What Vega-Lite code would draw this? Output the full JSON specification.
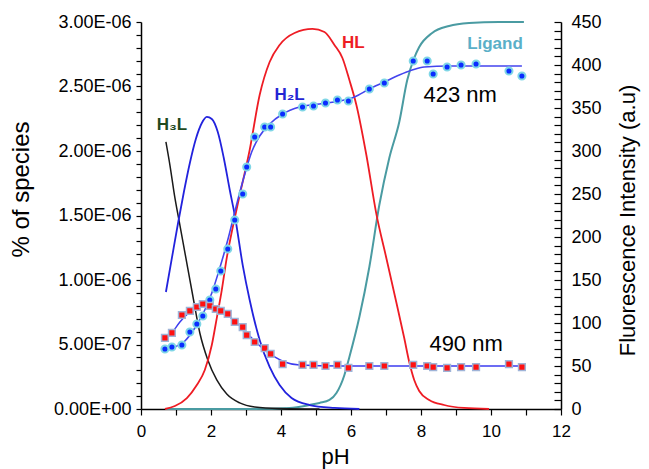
{
  "$schema": "https://vega.github.io/schema/vega-lite/v6.json",
  "width": 420,
  "height": 387,
  "autosize": "none",
  "padding": {"left": 141, "top": 22, "right": 88, "bottom": 60},
  "config": {
    "view": {"stroke": null},
    "font": "Liberation Sans",
    "axis": {"grid": false, "domainColor": "#000", "tickColor": "#000", "labelColor": "#000", "titleColor": "#000", "titleFontWeight": "normal", "domainWidth": 1.5, "tickWidth": 1.2, "labelFont": "Liberation Sans", "titleFont": "Liberation Sans", "labelOverlap": false, "labelFlush": false}
  },
  "datasets": {
    "species": [
      {"species": "H3L", "pH": 0.712, "value": 2.07e-6},
      {"species": "H3L", "pH": 0.826, "value": 1.891e-6},
      {"species": "H3L", "pH": 0.969, "value": 1.636e-6},
      {"species": "H3L", "pH": 1.111, "value": 1.426e-6},
      {"species": "H3L", "pH": 1.282, "value": 1.171e-6},
      {"species": "H3L", "pH": 1.481, "value": 0.876e-6},
      {"species": "H3L", "pH": 1.681, "value": 0.589e-6},
      {"species": "H3L", "pH": 1.909, "value": 0.38e-6},
      {"species": "H3L", "pH": 2.165, "value": 0.225e-6},
      {"species": "H3L", "pH": 2.45, "value": 0.116e-6},
      {"species": "H3L", "pH": 2.821, "value": 0.047e-6},
      {"species": "H3L", "pH": 3.248, "value": 0.016e-6},
      {"species": "H3L", "pH": 3.96, "value": 0.004e-6},
      {"species": "H3L", "pH": 5.1, "value": 0},
      {"species": "H2L", "pH": 0.712, "value": 0.907e-6},
      {"species": "H2L", "pH": 0.883, "value": 1.171e-6},
      {"species": "H2L", "pH": 1.054, "value": 1.434e-6},
      {"species": "H2L", "pH": 1.225, "value": 1.682e-6},
      {"species": "H2L", "pH": 1.396, "value": 1.907e-6},
      {"species": "H2L", "pH": 1.567, "value": 2.093e-6},
      {"species": "H2L", "pH": 1.738, "value": 2.217e-6},
      {"species": "H2L", "pH": 1.88, "value": 2.264e-6},
      {"species": "H2L", "pH": 2.023, "value": 2.248e-6},
      {"species": "H2L", "pH": 2.194, "value": 2.147e-6},
      {"species": "H2L", "pH": 2.365, "value": 1.946e-6},
      {"species": "H2L", "pH": 2.536, "value": 1.698e-6},
      {"species": "H2L", "pH": 2.678, "value": 1.504e-6},
      {"species": "H2L", "pH": 2.906, "value": 1.116e-6},
      {"species": "H2L", "pH": 3.105, "value": 0.845e-6},
      {"species": "H2L", "pH": 3.39, "value": 0.535e-6},
      {"species": "H2L", "pH": 3.675, "value": 0.326e-6},
      {"species": "H2L", "pH": 3.96, "value": 0.186e-6},
      {"species": "H2L", "pH": 4.302, "value": 0.085e-6},
      {"species": "H2L", "pH": 4.815, "value": 0.031e-6},
      {"species": "H2L", "pH": 5.527, "value": 0.008e-6},
      {"species": "H2L", "pH": 6.239, "value": 0},
      {"species": "HL", "pH": 0.684, "value": 0},
      {"species": "HL", "pH": 0.969, "value": 0.023e-6},
      {"species": "HL", "pH": 1.311, "value": 0.085e-6},
      {"species": "HL", "pH": 1.595, "value": 0.186e-6},
      {"species": "HL", "pH": 1.823, "value": 0.302e-6},
      {"species": "HL", "pH": 2.023, "value": 0.496e-6},
      {"species": "HL", "pH": 2.165, "value": 0.705e-6},
      {"species": "HL", "pH": 2.308, "value": 0.922e-6},
      {"species": "HL", "pH": 2.45, "value": 1.171e-6},
      {"species": "HL", "pH": 2.593, "value": 1.372e-6},
      {"species": "HL", "pH": 2.678, "value": 1.481e-6},
      {"species": "HL", "pH": 2.821, "value": 1.659e-6},
      {"species": "HL", "pH": 3.105, "value": 2.008e-6},
      {"species": "HL", "pH": 3.39, "value": 2.434e-6},
      {"species": "HL", "pH": 3.675, "value": 2.69e-6},
      {"species": "HL", "pH": 3.96, "value": 2.822e-6},
      {"species": "HL", "pH": 4.387, "value": 2.915e-6},
      {"species": "HL", "pH": 4.9, "value": 2.946e-6},
      {"species": "HL", "pH": 5.242, "value": 2.922e-6},
      {"species": "HL", "pH": 5.527, "value": 2.822e-6},
      {"species": "HL", "pH": 5.755, "value": 2.721e-6},
      {"species": "HL", "pH": 5.954, "value": 2.55e-6},
      {"species": "HL", "pH": 6.154, "value": 2.357e-6},
      {"species": "HL", "pH": 6.439, "value": 1.969e-6},
      {"species": "HL", "pH": 6.724, "value": 1.512e-6},
      {"species": "HL", "pH": 7.009, "value": 1.171e-6},
      {"species": "HL", "pH": 7.293, "value": 0.829e-6},
      {"species": "HL", "pH": 7.521, "value": 0.55e-6},
      {"species": "HL", "pH": 7.664, "value": 0.364e-6},
      {"species": "HL", "pH": 7.806, "value": 0.225e-6},
      {"species": "HL", "pH": 7.949, "value": 0.14e-6},
      {"species": "HL", "pH": 8.234, "value": 0.07e-6},
      {"species": "HL", "pH": 8.661, "value": 0.031e-6},
      {"species": "HL", "pH": 9.231, "value": 0.008e-6},
      {"species": "HL", "pH": 9.943, "value": 0},
      {"species": "Ligand", "pH": 0.712, "value": 0},
      {"species": "Ligand", "pH": 3.105, "value": 0},
      {"species": "Ligand", "pH": 4.245, "value": 0.008e-6},
      {"species": "Ligand", "pH": 4.815, "value": 0.031e-6},
      {"species": "Ligand", "pH": 5.1, "value": 0.047e-6},
      {"species": "Ligand", "pH": 5.385, "value": 0.07e-6},
      {"species": "Ligand", "pH": 5.584, "value": 0.124e-6},
      {"species": "Ligand", "pH": 5.812, "value": 0.264e-6},
      {"species": "Ligand", "pH": 5.954, "value": 0.403e-6},
      {"species": "Ligand", "pH": 6.239, "value": 0.713e-6},
      {"species": "Ligand", "pH": 6.524, "value": 1.101e-6},
      {"species": "Ligand", "pH": 6.809, "value": 1.581e-6},
      {"species": "Ligand", "pH": 7.094, "value": 1.946e-6},
      {"species": "Ligand", "pH": 7.379, "value": 2.225e-6},
      {"species": "Ligand", "pH": 7.607, "value": 2.55e-6},
      {"species": "Ligand", "pH": 7.806, "value": 2.721e-6},
      {"species": "Ligand", "pH": 7.949, "value": 2.806e-6},
      {"species": "Ligand", "pH": 8.319, "value": 2.915e-6},
      {"species": "Ligand", "pH": 8.803, "value": 2.969e-6},
      {"species": "Ligand", "pH": 9.373, "value": 2.992e-6},
      {"species": "Ligand", "pH": 10.228, "value": 3.0e-6},
      {"species": "Ligand", "pH": 10.94, "value": 3.0e-6}
    ],
    "speciesLabels": [
      {"label": "H₃L", "pH": 0.883, "value": 2.2e-6},
      {"label": "H₂L", "pH": 4.245, "value": 2.434e-6},
      {"label": "HL", "pH": 6.068, "value": 2.837e-6},
      {"label": "Ligand", "pH": 10.114, "value": 2.83e-6}
    ],
    "fluor": [
      {"series": "423 nm", "pH": 0.684, "intensity": 69.8},
      {"series": "423 nm", "pH": 0.883, "intensity": 72.1},
      {"series": "423 nm", "pH": 1.168, "intensity": 74.4},
      {"series": "423 nm", "pH": 1.396, "intensity": 89.5},
      {"series": "423 nm", "pH": 1.595, "intensity": 98.8},
      {"series": "423 nm", "pH": 1.766, "intensity": 108.1},
      {"series": "423 nm", "pH": 1.966, "intensity": 126.7},
      {"series": "423 nm", "pH": 2.137, "intensity": 139.5},
      {"series": "423 nm", "pH": 2.279, "intensity": 160.5},
      {"series": "423 nm", "pH": 2.479, "intensity": 186.0},
      {"series": "423 nm", "pH": 2.678, "intensity": 219.8},
      {"series": "423 nm", "pH": 2.906, "intensity": 250.0},
      {"series": "423 nm", "pH": 3.02, "intensity": 281.4},
      {"series": "423 nm", "pH": 3.248, "intensity": 316.3},
      {"series": "423 nm", "pH": 3.533, "intensity": 327.9},
      {"series": "423 nm", "pH": 3.704, "intensity": 327.9},
      {"series": "423 nm", "pH": 4.046, "intensity": 343.0},
      {"series": "423 nm", "pH": 4.615, "intensity": 351.2},
      {"series": "423 nm", "pH": 4.929, "intensity": 352.3},
      {"series": "423 nm", "pH": 5.271, "intensity": 355.8},
      {"series": "423 nm", "pH": 5.613, "intensity": 359.3},
      {"series": "423 nm", "pH": 5.926, "intensity": 358.1},
      {"series": "423 nm", "pH": 6.524, "intensity": 372.1},
      {"series": "423 nm", "pH": 6.952, "intensity": 379.1},
      {"series": "423 nm", "pH": 7.778, "intensity": 404.7},
      {"series": "423 nm", "pH": 8.177, "intensity": 404.7},
      {"series": "423 nm", "pH": 8.348, "intensity": 389.5},
      {"series": "423 nm", "pH": 8.746, "intensity": 397.7},
      {"series": "423 nm", "pH": 9.145, "intensity": 400.0},
      {"series": "423 nm", "pH": 9.573, "intensity": 401.2},
      {"series": "423 nm", "pH": 10.513, "intensity": 393.0},
      {"series": "423 nm", "pH": 10.883, "intensity": 387.2},
      {"series": "490 nm", "pH": 0.684, "intensity": 82.6},
      {"series": "490 nm", "pH": 0.883, "intensity": 88.4},
      {"series": "490 nm", "pH": 1.168, "intensity": 109.3},
      {"series": "490 nm", "pH": 1.396, "intensity": 114.0},
      {"series": "490 nm", "pH": 1.595, "intensity": 118.6},
      {"series": "490 nm", "pH": 1.766, "intensity": 122.1},
      {"series": "490 nm", "pH": 1.966, "intensity": 119.8},
      {"series": "490 nm", "pH": 2.137, "intensity": 116.3},
      {"series": "490 nm", "pH": 2.279, "intensity": 114.0},
      {"series": "490 nm", "pH": 2.479, "intensity": 110.5},
      {"series": "490 nm", "pH": 2.678, "intensity": 101.2},
      {"series": "490 nm", "pH": 2.906, "intensity": 95.3},
      {"series": "490 nm", "pH": 3.02, "intensity": 86.0},
      {"series": "490 nm", "pH": 3.248, "intensity": 77.9},
      {"series": "490 nm", "pH": 3.533, "intensity": 70.9},
      {"series": "490 nm", "pH": 3.704, "intensity": 64.0},
      {"series": "490 nm", "pH": 4.046, "intensity": 52.3},
      {"series": "490 nm", "pH": 4.615, "intensity": 51.2},
      {"series": "490 nm", "pH": 4.929, "intensity": 51.2},
      {"series": "490 nm", "pH": 5.271, "intensity": 50.0},
      {"series": "490 nm", "pH": 5.613, "intensity": 51.2},
      {"series": "490 nm", "pH": 5.926, "intensity": 47.7},
      {"series": "490 nm", "pH": 6.524, "intensity": 50.0},
      {"series": "490 nm", "pH": 6.952, "intensity": 50.0},
      {"series": "490 nm", "pH": 7.778, "intensity": 51.2},
      {"series": "490 nm", "pH": 8.177, "intensity": 50.0},
      {"series": "490 nm", "pH": 8.348, "intensity": 48.8},
      {"series": "490 nm", "pH": 8.746, "intensity": 47.7},
      {"series": "490 nm", "pH": 9.145, "intensity": 48.8},
      {"series": "490 nm", "pH": 9.573, "intensity": 48.8},
      {"series": "490 nm", "pH": 10.513, "intensity": 52.3},
      {"series": "490 nm", "pH": 10.883, "intensity": 48.8}
    ],
    "fits": [
      {"series": "423 nm", "pH": 0.684, "intensity": 68.6},
      {"series": "423 nm", "pH": 0.969, "intensity": 72.1},
      {"series": "423 nm", "pH": 1.254, "intensity": 79.1},
      {"series": "423 nm", "pH": 1.538, "intensity": 94.2},
      {"series": "423 nm", "pH": 1.823, "intensity": 115.1},
      {"series": "423 nm", "pH": 2.023, "intensity": 134.9},
      {"series": "423 nm", "pH": 2.251, "intensity": 164.0},
      {"series": "423 nm", "pH": 2.479, "intensity": 196.5},
      {"series": "423 nm", "pH": 2.707, "intensity": 233.7},
      {"series": "423 nm", "pH": 2.934, "intensity": 268.6},
      {"series": "423 nm", "pH": 3.162, "intensity": 298.8},
      {"series": "423 nm", "pH": 3.39, "intensity": 317.4},
      {"series": "423 nm", "pH": 3.675, "intensity": 331.4},
      {"series": "423 nm", "pH": 4.046, "intensity": 343.0},
      {"series": "423 nm", "pH": 4.53, "intensity": 351.2},
      {"series": "423 nm", "pH": 5.1, "intensity": 354.7},
      {"series": "423 nm", "pH": 5.67, "intensity": 358.1},
      {"series": "423 nm", "pH": 6.097, "intensity": 362.8},
      {"series": "423 nm", "pH": 6.524, "intensity": 372.1},
      {"series": "423 nm", "pH": 6.952, "intensity": 380.2},
      {"series": "423 nm", "pH": 7.379, "intensity": 388.4},
      {"series": "423 nm", "pH": 7.749, "intensity": 394.2},
      {"series": "423 nm", "pH": 8.091, "intensity": 397.7},
      {"series": "423 nm", "pH": 8.803, "intensity": 398.8},
      {"series": "423 nm", "pH": 9.943, "intensity": 398.8},
      {"series": "423 nm", "pH": 10.883, "intensity": 398.8},
      {"series": "490 nm", "pH": 0.684, "intensity": 80.2},
      {"series": "490 nm", "pH": 0.883, "intensity": 88.4},
      {"series": "490 nm", "pH": 1.111, "intensity": 101.2},
      {"series": "490 nm", "pH": 1.396, "intensity": 112.8},
      {"series": "490 nm", "pH": 1.681, "intensity": 119.8},
      {"series": "490 nm", "pH": 1.909, "intensity": 120.9},
      {"series": "490 nm", "pH": 2.137, "intensity": 117.4},
      {"series": "490 nm", "pH": 2.393, "intensity": 111.6},
      {"series": "490 nm", "pH": 2.678, "intensity": 102.3},
      {"series": "490 nm", "pH": 2.963, "intensity": 90.7},
      {"series": "490 nm", "pH": 3.248, "intensity": 79.1},
      {"series": "490 nm", "pH": 3.533, "intensity": 68.6},
      {"series": "490 nm", "pH": 3.818, "intensity": 60.5},
      {"series": "490 nm", "pH": 4.103, "intensity": 54.7},
      {"series": "490 nm", "pH": 4.53, "intensity": 51.2},
      {"series": "490 nm", "pH": 5.67, "intensity": 50.0},
      {"series": "490 nm", "pH": 10.883, "intensity": 50.0}
    ],
    "nmLabels": [
      {"label": "423 nm", "pH": 9.117, "intensity": 365.1},
      {"label": "490 nm", "pH": 9.288, "intensity": 75.6}
    ]
  },
  "layer": [
    {
      "encoding": {
        "x": {"field": "pH", "type": "quantitative", "scale": {"domain": [0, 12]},
          "axis": {"values": [0,1,2,3,4,5,6,7,8,9,10,11,12], "labelExpr": "datum.value % 2 == 0 ? datum.label : ''", "tickSize": 6, "labelPadding": 8, "labelFontSize": 17, "title": "pH", "titleFontSize": 22, "titleX": 194, "titleY": 54, "titleBaseline": "alphabetic"}},
        "y": {"field": "value", "type": "quantitative", "scale": {"domain": [0, 3e-6]},
          "axis": {"orient": "left", "values": [0,1e-7,2e-7,3e-7,4e-7,5e-7,6e-7,7e-7,8e-7,9e-7,1e-6,1.1e-6,1.2e-6,1.3e-6,1.4e-6,1.5e-6,1.6e-6,1.7e-6,1.8e-6,1.9e-6,2e-6,2.1e-6,2.2e-6,2.3e-6,2.4e-6,2.5e-6,2.6e-6,2.7e-6,2.8e-6,2.9e-6,3e-6],
            "labelExpr": "round(datum.value*1e7) % 5 != 0 ? '' : (datum.value == 0 ? '0.00E+00' : (datum.value < 9.5e-7 ? format(datum.value*1e7, '.2f') + 'E-07' : format(datum.value*1e6, '.2f') + 'E-06'))",
            "tickSize": 5, "labelPadding": 5, "labelFontSize": 18, "title": "% of species", "titleFontSize": 24, "titleAngle": 270, "titleX": -120, "titleY": 167, "titleBaseline": "middle"}}
      },
      "layer": [
        {"data": {"name": "species"}, "transform": [{"filter": "datum.species == 'Ligand'"}], "mark": {"type": "line", "color": "#4a9ba2", "strokeWidth": 2, "interpolate": "monotone"}},
        {"data": {"name": "species"}, "transform": [{"filter": "datum.species == 'H3L'"}], "mark": {"type": "line", "color": "#1a1a1a", "strokeWidth": 1.5, "interpolate": "monotone"}},
        {"data": {"name": "species"}, "transform": [{"filter": "datum.species == 'H2L'"}], "mark": {"type": "line", "color": "#2222dd", "strokeWidth": 1.8, "interpolate": "monotone"}},
        {"data": {"name": "species"}, "transform": [{"filter": "datum.species == 'HL'"}], "mark": {"type": "line", "color": "#ee1c24", "strokeWidth": 1.8, "interpolate": "monotone"}},
        {"data": {"name": "speciesLabels"}, "transform": [{"filter": "datum.label == 'H₃L'"}], "mark": {"type": "text", "color": "#1e4a1e", "fontWeight": "bold", "fontSize": 17, "font": "Liberation Sans"}, "encoding": {"text": {"field": "label"}}},
        {"data": {"name": "speciesLabels"}, "transform": [{"filter": "datum.label == 'H₂L'"}], "mark": {"type": "text", "color": "#2424d4", "fontWeight": "bold", "fontSize": 17, "font": "Liberation Sans"}, "encoding": {"text": {"field": "label"}}},
        {"data": {"name": "speciesLabels"}, "transform": [{"filter": "datum.label == 'HL'"}], "mark": {"type": "text", "color": "#ee1c24", "fontWeight": "bold", "fontSize": 17, "font": "Liberation Sans"}, "encoding": {"text": {"field": "label"}}},
        {"data": {"name": "speciesLabels"}, "transform": [{"filter": "datum.label == 'Ligand'"}], "mark": {"type": "text", "color": "#5aafc8", "fontWeight": "bold", "fontSize": 17, "font": "Liberation Sans"}, "encoding": {"text": {"field": "label"}}}
      ]
    },
    {
      "encoding": {
        "x": {"field": "pH", "type": "quantitative", "scale": {"domain": [0, 12]},
          "axis": {"values": [0,1,2,3,4,5,6,7,8,9,10,11,12], "labelExpr": "datum.value % 2 == 0 ? datum.label : ''", "tickSize": 6, "labelPadding": 8, "labelFontSize": 17, "title": "pH", "titleFontSize": 22, "titleX": 194, "titleY": 54, "titleBaseline": "alphabetic"}},
        "y": {"field": "intensity", "type": "quantitative", "scale": {"domain": [0, 450]},
          "axis": {"orient": "right", "values": [0,10,20,30,40,50,60,70,80,90,100,110,120,130,140,150,160,170,180,190,200,210,220,230,240,250,260,270,280,290,300,310,320,330,340,350,360,370,380,390,400,410,420,430,440,450],
            "labelExpr": "datum.value % 50 == 0 ? datum.label : ''",
            "tickSize": -7, "labelPadding": 17, "labelFontSize": 18, "title": "Fluorescence Intensity (a.u)", "titleFontSize": 22, "titleAngle": 270, "titleX": 66, "titleY": 198, "titleBaseline": "middle"}}
      },
      "layer": [
        {"data": {"name": "fits"}, "transform": [{"filter": "datum.series == '490 nm'"}], "mark": {"type": "line", "color": "#3c3cf0", "strokeWidth": 1.5, "interpolate": "monotone"}},
        {"data": {"name": "fits"}, "transform": [{"filter": "datum.series == '423 nm'"}], "mark": {"type": "line", "color": "#4444ee", "strokeWidth": 1.6, "interpolate": "monotone"}},
        {"data": {"name": "fluor"}, "transform": [{"filter": "datum.series == '423 nm'"}], "mark": {"type": "point", "shape": "circle", "filled": true, "fill": "#0a2cff", "stroke": "#7fd6e6", "strokeWidth": 2, "size": 50, "opacity": 1}},
        {"data": {"name": "fluor"}, "transform": [{"filter": "datum.series == '490 nm'"}], "mark": {"type": "point", "shape": "square", "filled": true, "fill": "#ff1010", "stroke": "#9fb4d8", "strokeWidth": 1.5, "size": 45, "opacity": 1}},
        {"data": {"name": "nmLabels"}, "mark": {"type": "text", "color": "#000", "fontSize": 22, "font": "Liberation Sans"}, "encoding": {"text": {"field": "label"}}}
      ]
    }
  ],
  "resolve": {"scale": {"y": "independent"}}
}
